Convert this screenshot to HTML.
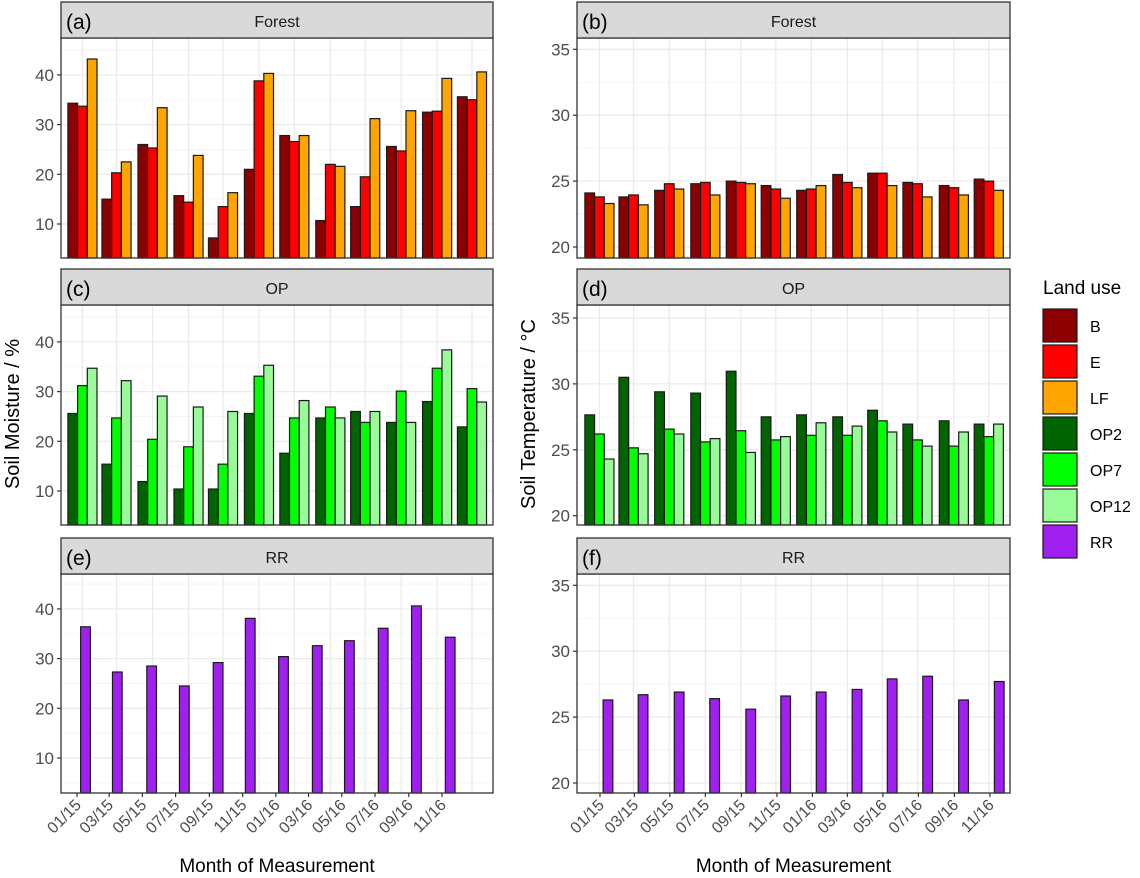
<!DOCTYPE html>
<html><head><meta charset="utf-8"><style>
body{margin:0;background:#fff}
svg{display:block;font-family:"Liberation Sans",Arial,sans-serif}
</style></head><body>
<svg id="chart" width="1140" height="878" viewBox="0 0 1140 878" xmlns="http://www.w3.org/2000/svg"></svg>
<script>
// ---- data ----
const monthLabels = ["01/15","03/15","05/15","07/15","09/15","11/15","01/16","03/16","05/16","07/16","09/16","11/16"];
const monthDays = [0,59,120,181,243,304,365,425,486,547,609,670];
const groupDaysLeft = [10,72.5,138.6,204.7,268,334,399,465,529,595,661,725];
const groupDaysRight = [-1,57.6,119,181,242,302,363,425,485,545.5,608,668];
const rrDaysLeft = [15.6,74,137,197,259,318,379,441,500,562,623,685];
const rrDaysRight = [13.7,74,136,197,259,319,380,441.6,502,563,624.6,686];
const moistB = [34.3,15,26,15.7,7.2,21,27.8,10.7,13.5,25.6,32.5,35.6];
const moistE = [33.7,20.3,25.3,14.4,13.5,38.8,26.6,22,19.5,24.7,32.7,35];
const moistLF = [43.2,22.5,33.4,23.8,16.3,40.3,27.8,21.6,31.2,32.8,39.3,40.6];
const moistOP2 = [25.6,15.4,11.9,10.4,10.4,25.6,17.6,24.7,26,23.8,28,22.9];
const moistOP7 = [31.2,24.7,20.4,18.9,15.4,33.1,24.7,26.9,23.8,30.1,34.7,30.6];
const moistOP12 = [34.7,32.2,29.1,26.9,26,35.3,28.2,24.7,26,23.8,38.4,27.9];
const moistRR = [36.4,27.3,28.5,24.5,29.2,38.1,30.4,32.6,33.6,36.1,40.6,34.3];
const tempB = [24.1,23.8,24.3,24.8,25.0,24.66,24.3,25.5,25.6,24.9,24.66,25.15];
const tempE = [23.8,23.95,24.8,24.9,24.9,24.4,24.4,24.9,25.6,24.8,24.5,25.0];
const tempLF = [23.3,23.2,24.4,23.95,24.8,23.7,24.66,24.5,24.66,23.8,23.95,24.3];
const tempOP2 = [27.65,30.5,29.4,29.3,30.96,27.5,27.65,27.5,28.0,26.95,27.2,26.95];
const tempOP7 = [26.2,25.15,26.57,25.6,26.45,25.75,26.1,26.1,27.2,25.75,25.28,26.0];
const tempOP12 = [24.3,24.7,26.2,25.85,24.8,26.0,27.05,26.8,26.35,25.28,26.35,26.95];
const tempRR = [26.3,26.7,26.9,26.4,25.6,26.6,26.9,27.1,27.9,28.1,26.3,27.7];
const moistTicks = [10,20,30,40];
const tempTicks = [20,25,30,35];
const legendNames = ["B","E","LF","OP2","OP7","OP12","RR"];
const legendColors = ["#8b0000","#ff0000","#ffa500","#006400","#00ff00","#98fb98","#a020f0"];

const NS="http://www.w3.org/2000/svg";
const svg=document.getElementById('chart');
function mk(tag,attrs,parent){const e=document.createElementNS(NS,tag);for(const k in attrs)e.setAttribute(k,attrs[k]);(parent||svg).appendChild(e);return e;}

const cols=[
 {x0:61,x1:493,tick0:77,k:0.5448,gd:groupDaysLeft,rd:rrDaysLeft,tickLbl:moistTicks,
  rows:[{v0:10,y0:224,s:4.97},{v0:10,y0:491,s:4.97},{v0:10,y0:758,s:4.97}],
  minor:[5,15,25,35,45], data:[[moistB,moistE,moistLF],[moistOP2,moistOP7,moistOP12],[moistRR]], letters:["(a)","(c)","(e)"]},
 {x0:577,x1:1010,tick0:600,k:0.582,gd:groupDaysRight,rd:rrDaysRight,tickLbl:tempTicks,
  rows:[{v0:20,y0:247,s:13.18},{v0:20,y0:515.7,s:13.18},{v0:20,y0:783,s:13.18}],
  minor:[22.5,27.5,32.5], data:[[tempB,tempE,tempLF],[tempOP2,tempOP7,tempOP12],[tempRR]], letters:["(b)","(d)","(f)"]}
];
const rowBox=[{st:2,pt:38,pb:258},{st:269,pt:305,pb:525},{st:538,pt:574,pb:793}];
const facetNames=["Forest","OP","RR"];
const colorSets=[[0,1,2],[3,4,5],[6]];
const BW=9.7;

cols.forEach((c,ci)=>{
  const xs=d=>c.tick0+d*c.k;
  rowBox.forEach((rb,ri)=>{
    const r=c.rows[ri];
    const ys=v=>r.y0-(v-r.v0)*r.s;
    const g=mk('g',{});
    
    
    mk('rect',{x:c.x0,y:rb.pt,width:c.x1-c.x0,height:rb.pb-rb.pt,fill:'#fff'},g);
    c.minor.forEach(v=>{const y=ys(v);if(y>rb.pt&&y<rb.pb)mk('line',{x1:c.x0,x2:c.x1,y1:y,y2:y,stroke:'#f3f3f3','stroke-width':0.8},g);});
    c.tickLbl.forEach(v=>{const y=ys(v);mk('line',{x1:c.x0,x2:c.x1,y1:y,y2:y,stroke:'#ebebeb','stroke-width':1.3},g);});
    c.gd.forEach(d=>{const x=xs(d);mk('line',{x1:x,x2:x,y1:rb.pt,y2:rb.pb,stroke:'#ebebeb','stroke-width':1.3},g);});
    const series=c.data[ri];
    series.forEach((vals,si)=>{
      vals.forEach((v,i)=>{
        let xc;
        if(series.length===1){xc=xs(c.rd[i]);}
        else{xc=xs(c.gd[i])+(si-1)*BW;}
        const yt=ys(v);
        const b=mk('rect',{x:xc-BW/2,y:yt,width:BW,height:rb.pb-yt,fill:legendColors[colorSets[ri][si]],stroke:'#1a1a1a','stroke-width':1.2},g);
        
        
      });
    });
    mk('rect',{x:c.x0,y:rb.pt,width:c.x1-c.x0,height:rb.pb-rb.pt,fill:'none',stroke:'#333','stroke-width':1.3},g);
    const st=mk('rect',{x:c.x0,y:rb.st,width:c.x1-c.x0,height:rb.pt-rb.st,fill:'#d9d9d9',stroke:'#333','stroke-width':1.3},g);
    
    
    const lt=mk('text',{x:c.x0+5,y:rb.st+27,'font-size':21,fill:'#000'},g);lt.textContent=c.letters[ri];
    
    const ft=mk('text',{x:(c.x0+c.x1)/2,y:rb.st+25,'font-size':16,fill:'#1a1a1a','text-anchor':'middle'},g);ft.textContent=facetNames[ri];
    
    c.tickLbl.forEach(v=>{const y=ys(v);
      mk('line',{x1:c.x0-4,x2:c.x0,y1:y,y2:y,stroke:'#333','stroke-width':1.2},g);
      const t=mk('text',{x:c.x0-7,y:y+6,'font-size':17,fill:'#4d4d4d','text-anchor':'end'},g);t.textContent=v;
      
    });
    if(ri===2){
      monthDays.forEach((d,i)=>{const x=xs(d);
        mk('line',{x1:x,x2:x,y1:rb.pb,y2:rb.pb+4,stroke:'#333','stroke-width':1.2},g);
        const t=mk('text',{x:x+5,y:rb.pb+13,'font-size':16,fill:'#4d4d4d','text-anchor':'end',transform:`rotate(-45 ${x+5} ${rb.pb+13})`},g);
        t.textContent=monthLabels[i];
        
      });
    }
  });
  const xt=mk('text',{x:(c.x0+c.x1)/2,y:872,'font-size':19,fill:'#000','text-anchor':'middle'});
  xt.textContent="Month of Measurement";
  
});
const yt1=mk('text',{x:0,y:0,'font-size':20,fill:'#000','text-anchor':'middle',transform:'translate(19 414) rotate(-90)'});
yt1.textContent="Soil Moisture / %";

const yt2=mk('text',{x:0,y:0,'font-size':20,fill:'#000','text-anchor':'middle',transform:'translate(535 414) rotate(-90)'});
yt2.textContent="Soil Temperature / °C";

const lg=mk('g',{});

const ltt=mk('text',{x:1043,y:294,'font-size':19,fill:'#000'},lg);ltt.textContent="Land use";

legendNames.forEach((n,i)=>{
  const y=309+i*36;
  const r=mk('rect',{x:1043,y:y,width:34,height:33,fill:legendColors[i],stroke:'#1a1a1a','stroke-width':1.2},lg);
  
  const t=mk('text',{x:1090,y:y+23,'font-size':16,fill:'#000'},lg);t.textContent=n;
  
});
</script>
</body></html>
